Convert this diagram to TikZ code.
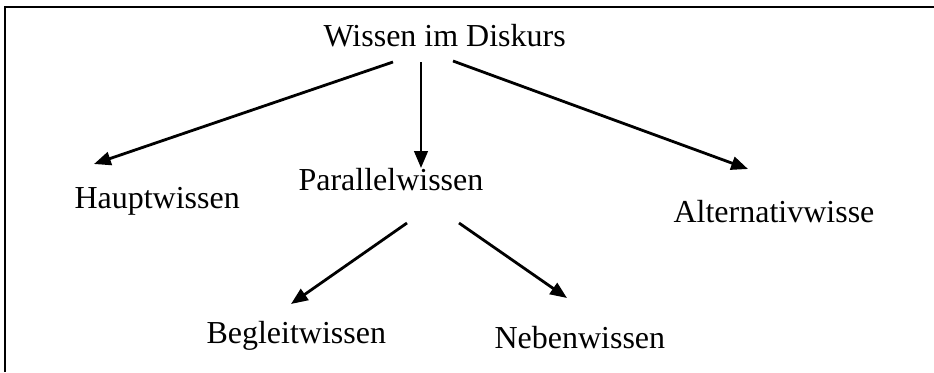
\documentclass[tikz,border=0pt]{standalone}
\usepackage{fontspec}
\setmainfont{Liberation Serif}
\usetikzlibrary{arrows.meta}
\tikzset{
  label/.style={anchor=base west, inner sep=0pt, font=\fontsize{12}{14}\selectfont},
  link/.style={line width=1.05pt, -{Triangle[length=6.3pt,width=5pt]}},
  frame/.style={line width=0.8pt}
}
\begin{document}
\begin{tikzpicture}[x=0.375pt,y=-0.375pt]
  \useasboundingbox (0,0) rectangle (934,372);
  % outer frame (only top and left edges fall inside the page)
  \draw[frame] (5,372) -- (5,7) -- (934,7);

  % labels
  \node[label] (wid) at (323,46)  {Wissen im Diskurs};
  \node[label] (hw)  at (74,208)  {Hauptwissen};
  \node[label] (pw)  at (298,190) {Parallelwissen};
  \node[label] (aw)  at (673,222) {Alternativwisse};
  \node[label] (bw)  at (206,343) {Begleitwissen};
  \node[label] (nw)  at (494,348) {Nebenwissen};

  % connector end points
  \coordinate (widL) at (393,62);
  \coordinate (widM) at (421,62);
  \coordinate (widR) at (453,61);
  \coordinate (hwT)  at (94,164);
  \coordinate (pwT)  at (421,168);
  \coordinate (awT)  at (748,169);
  \coordinate (pwL)  at (407,223);
  \coordinate (pwR)  at (459,223);
  \coordinate (bwT)  at (291,304);
  \coordinate (nwT)  at (567,298);

  % connectors
  \draw[link] (widL) -- (hwT);
  \draw[link] (widM) -- (pwT);
  \draw[link] (widR) -- (awT);
  \draw[link] (pwL)  -- (bwT);
  \draw[link] (pwR)  -- (nwT);
\end{tikzpicture}
\end{document}
